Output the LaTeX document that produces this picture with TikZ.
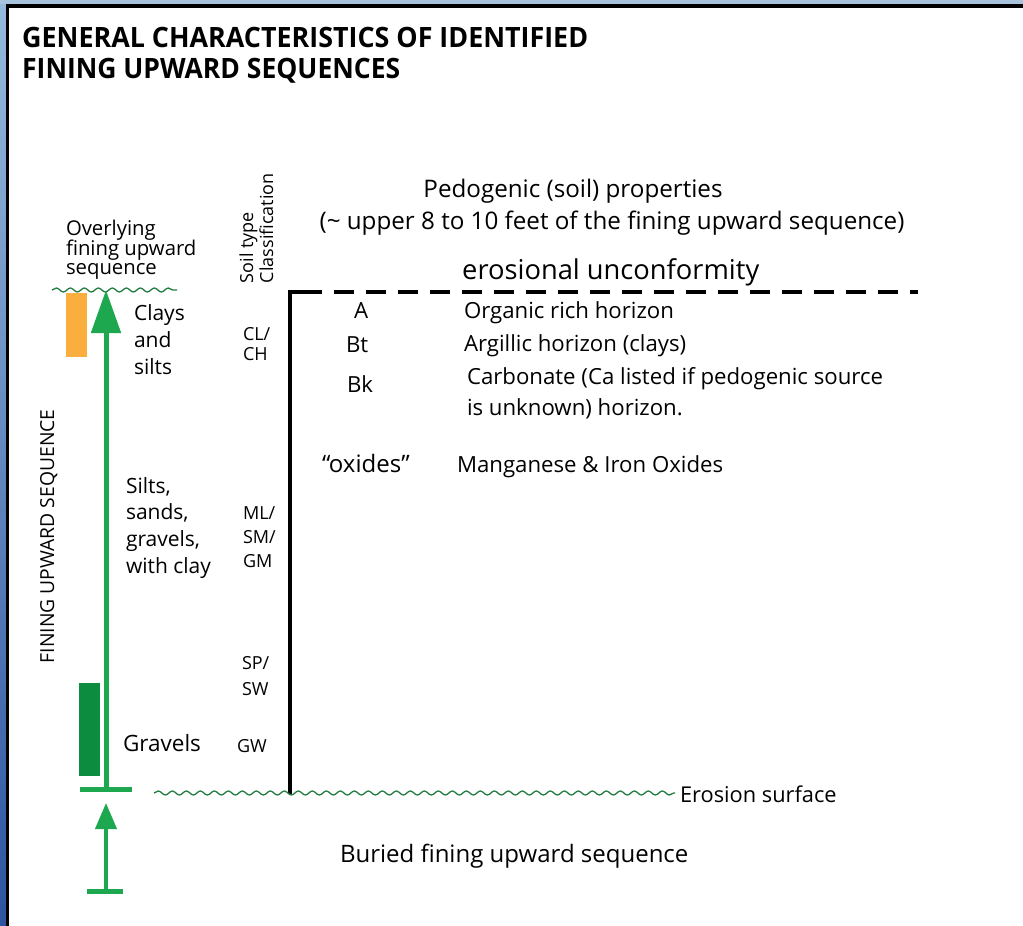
\documentclass[tikz,border=0pt]{standalone}
\usepackage{fontspec}
\usepackage{graphicx}
\setmainfont{Open Sans}
\usetikzlibrary{arrows.meta,decorations.pathmorphing}
\definecolor{grn}{RGB}{29,168,80}
\definecolor{dgrn}{RGB}{12,140,62}
\definecolor{wavy}{RGB}{35,125,65}
\definecolor{orng}{RGB}{250,174,62}
\definecolor{frameTop}{RGB}{168,196,220}
\definecolor{leftTop}{RGB}{150,186,220}
\definecolor{leftBot}{RGB}{45,85,160}
\tikzset{
  txt/.style={anchor=base west, inner sep=0pt, outer sep=0pt, font=\fontsize{21}{27}\selectfont},
  big/.style={txt, font=\fontsize{22.2}{28}\selectfont},
  small/.style={txt, font=\fontsize{18}{20}\selectfont},
  ctr/.style={anchor=base, inner sep=0pt, outer sep=0pt, font=\fontsize{24.2}{28}\selectfont},
  wave/.style={draw=wavy, line width=1.3pt, decorate, decoration={snake, segment length=14pt, amplitude=2pt}},
  grnarrow/.style={draw=grn, line width=5pt, -{Triangle[width=29pt,length=43pt]}},
  smallarrow/.style={draw=grn, line width=4pt, -{Triangle[width=21pt,length=26pt]}},
  bar/.style={draw=grn, line width=5pt},
  thickblack/.style={draw=black, line width=4pt},
}
\begin{document}
\begin{tikzpicture}[x=1pt,y=-1pt]
\useasboundingbox (0,0) rectangle (1023,926);
\fill[white] (0,0) rectangle (1023,926);
% window frame
\shade[top color=leftTop,bottom color=leftBot] (0,0) rectangle (6,926);
\fill[frameTop] (0,0) rectangle (1023,4);
\fill[black] (6,4) rectangle (1023,8);
\fill[black] (6,4) rectangle (9,926);

% title
\node[anchor=base west, inner sep=0pt] (t1) at (22,47) {\resizebox{566pt}{\height}{\fontsize{28}{30}\selectfont\bfseries GENERAL CHARACTERISTICS OF IDENTIFIED}};
\node[anchor=base west, inner sep=0pt] (t2) at (22,78) {\resizebox{378pt}{\height}{\fontsize{28}{30}\selectfont\bfseries FINING UPWARD SEQUENCES}};

% header texts
\node[ctr] (ped1) at (573,197) {Pedogenic (soil) properties};
\node[ctr] (ped2) at (612,229) {(\textasciitilde{} upper 8 to 10 feet of the fining upward sequence)};
\node[anchor=base west, inner sep=0pt, font=\fontsize{27.3}{30}\selectfont] (eros) at (462,279) {erosional unconformity};

% soil type classification (rotated)
\node[small, rotate=90] (st1) at (253,283) {Soil type};
\node[small, rotate=90] (st2) at (273,283) {Classification};

% bracket: vertical black line and dashed unconformity
\coordinate (corner) at (290,292);
\coordinate (vbot) at (290,794);
\coordinate (dend) at (918,292);
\draw[thickblack] (vbot) -- (corner) -- ++(12,0);
\draw[thickblack, dash pattern=on 20pt off 12pt, dash phase=-12pt] (corner) -- (dend);

% horizons
\node[big] (hA) at (354,318) {A};
\node[big] (hBt) at (346,352) {Bt};
\node[big] (hBk) at (347,392) {Bk};
\node[big] (dA) at (464,318) {Organic rich horizon};
\node[big] (dBt) at (464,351) {Argillic horizon (clays)};
\node[big] (dBk1) at (467,384) {Carbonate (Ca listed if pedogenic source};
\node[big] (dBk2) at (467,415) {is unknown) horizon.};
\node[big, font=\fontsize{24}{28}\selectfont] (ox) at (322,472) {“oxides”};
\node[big] (dox) at (457,472) {Manganese \& Iron Oxides};

% overlying sequence
\node[small, font=\fontsize{20.3}{20}\selectfont] (ov1) at (66,235) {Overlying};
\node[small, font=\fontsize{20.3}{20}\selectfont] (ov2) at (66,255) {fining upward};
\node[small, font=\fontsize{20.3}{20}\selectfont] (ov3) at (66,274) {sequence};
\coordinate (wt1) at (52,290);
\coordinate (wt2) at (177,290);
\draw[wave] (wt1) -- (wt2);

% lithology bars
\fill[orng] (66,293) rectangle (87,357);
\fill[dgrn] (79,683) rectangle (100,776);

% main arrow
\coordinate (abot) at (106,789);
\coordinate (atop) at (106,290);
\draw[grnarrow] (abot) -- (atop);
\coordinate (b1l) at (80,789);
\coordinate (b1r) at (132,789);
\draw[bar] (b1l) -- (b1r);

% lower arrow
\coordinate (lbot) at (106,891);
\coordinate (ltop) at (106,803);
\draw[smallarrow] (lbot) -- (ltop);
\coordinate (b2l) at (87,891);
\coordinate (b2r) at (123,891);
\draw[bar] (b2l) -- (b2r);

% rotated label
\node[txt, rotate=90, font=\fontsize{19.3}{22}\selectfont] (fus) at (54,663) {FINING UPWARD SEQUENCE};

% grain size labels
\node[txt] (c1) at (134,320) {Clays};
\node[txt] (c2) at (134,347) {and};
\node[txt] (c3) at (134,374) {silts};
\node[txt] (s1) at (126,493) {Silts,};
\node[txt] (s2) at (126,519) {sands,};
\node[txt] (s3) at (126,546) {gravels,};
\node[txt] (s4) at (126,573) {with clay};
\node[txt, font=\fontsize{22.5}{26}\selectfont] (gr) at (123,751) {Gravels};

% USCS codes
\node[small] (cl1) at (243,340) {CL/};
\node[small] (cl2) at (243,360) {CH};
\node[small] (ml1) at (243,519) {ML/};
\node[small] (ml2) at (243,543) {SM/};
\node[small] (ml3) at (243,567) {GM};
\node[small] (sp1) at (242,669) {SP/};
\node[small] (sp2) at (242,695) {SW};
\node[small] (gw) at (237,752) {GW};

% erosion surface
\coordinate (w1) at (154,793);
\coordinate (w2) at (675,793);
\draw[wave] (w1) -- (w2);
\node[txt, font=\fontsize{21.8}{26}\selectfont] (es) at (680,802) {Erosion surface};
\node[txt, font=\fontsize{24}{26}\selectfont] (bur) at (340,862) {Buried fining upward sequence};
\end{tikzpicture}
\end{document}
